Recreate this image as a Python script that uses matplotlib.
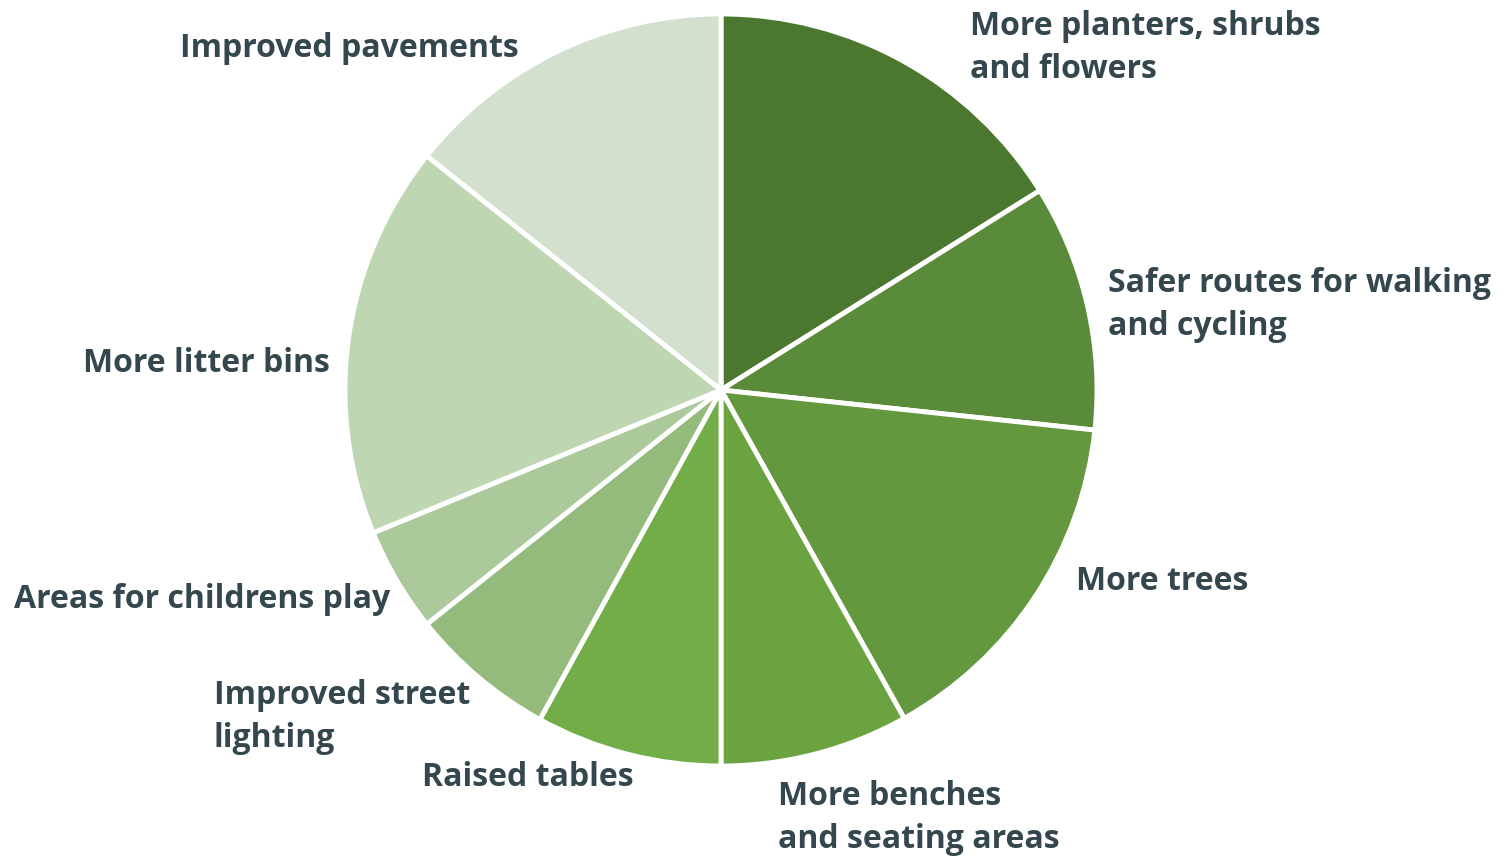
import matplotlib.pyplot as plt

labels = ['More planters, shrubs\nand flowers', 'Safer routes for walking\nand cycling', 'More trees',
          'More benches\nand seating areas', 'Raised tables', 'Improved street\nlighting',
          'Areas for childrens play', 'More litter bins', 'Improved pavements']
values = [16.1, 10.6, 15.2, 8.1, 8.0, 6.3, 4.5, 16.9, 14.3]
colors = ['#4b772f', '#5a8b3a', '#64983e', '#6aa340', '#72ad47', '#94bb7b', '#abc99a', '#bfd6b3', '#d3e0cd']

# label anchors (left edge, middle of text block) in image pixels
label_pos = [(970, 48), (1108, 305), (1076, 581), (778, 818), (422, 777),
             (214, 717), (14, 599), (83, 363), (180, 48)]

W, H = 1511, 856
fig = plt.figure(figsize=(W / 100, H / 100), dpi=100)
ax = fig.add_axes([0, 0, 1, 1])

ax.pie(values, colors=colors, startangle=90, counterclock=False,
       center=(721, H - 390), radius=376,
       wedgeprops=dict(edgecolor='white', linewidth=3.5))

for lab, (x, y) in zip(labels, label_pos):
    ax.text(x, H - y, lab, ha='left', va='center', fontsize=23, fontweight='bold',
            family=['Open Sans', 'DejaVu Sans'], color='#34474f', linespacing=1.42)

ax.set_xlim(0, W)
ax.set_ylim(0, H)
ax.set_aspect('equal')
ax.axis('off')

fig.savefig('out.png', dpi=100)
